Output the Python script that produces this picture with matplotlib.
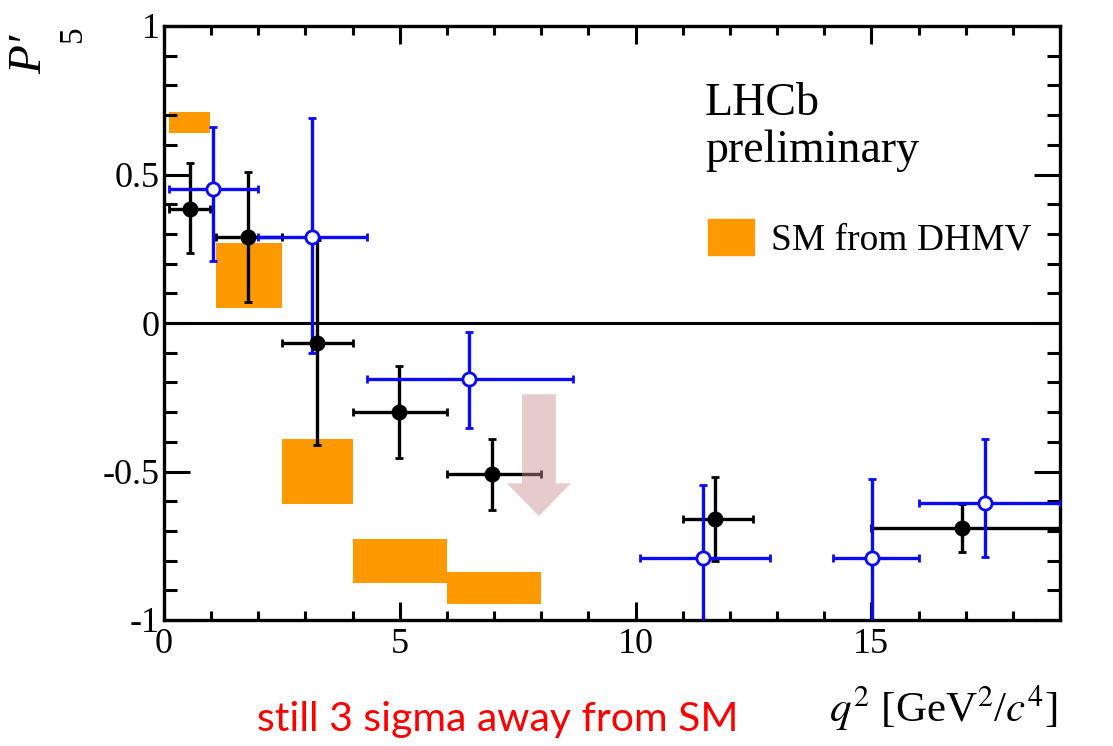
import matplotlib
matplotlib.use("Agg")
import matplotlib.pyplot as plt
from matplotlib.patches import Patch, FancyArrow
from matplotlib.ticker import MultipleLocator
import numpy as np

# ---- data ----
# 2015 preliminary (black, filled)
new_x = [0.55, 1.79, 3.25, 4.98, 6.96, 11.69, 16.92]
new_xlo = [0.10, 1.10, 2.50, 4.00, 6.00, 11.00, 15.00]
new_xhi = [0.98, 2.50, 4.00, 6.00, 8.00, 12.50, 19.00]
new_y = [0.385, 0.29, -0.068, -0.30, -0.507, -0.66, -0.69]
new_yup = [0.54, 0.51, 0.28, -0.145, -0.39, -0.517, -0.61]
new_ydn = [0.236, 0.07, -0.41, -0.456, -0.63, -0.80, -0.77]

# 2013 (blue, open)
old_x = [1.03, 3.13, 6.46, 11.43, 15.02, 17.40]
old_xlo = [0.10, 2.00, 4.30, 10.09, 14.18, 16.00]
old_xhi = [2.00, 4.30, 8.68, 12.86, 16.00, 19.00]
old_y = [0.45, 0.29, -0.19, -0.79, -0.79, -0.605]
old_yup = [0.66, 0.69, -0.03, -0.545, -0.525, -0.39]
old_ydn = [0.21, -0.10, -0.355, -1.10, -1.10, -0.787]

# SM prediction (DHMV) boxes
sm_lo_edge = [0.10, 1.10, 2.50, 4.00, 6.00]
sm_hi_edge = [0.98, 2.50, 4.00, 6.00, 8.00]
sm_lo = [0.64, 0.05, -0.61, -0.875, -0.946]
sm_hi = [0.71, 0.27, -0.39, -0.727, -0.84]

W, H = 1113, 746
fig = plt.figure(figsize=(W / 100, H / 100), dpi=100)
L, R, T, B = 164, 1060, 26, 620
ax = fig.add_axes([L / W, 1 - B / H, (R - L) / W, (B - T) / H])
serif = "Liberation Serif"
orange = "#ff9900"
blue = "#0a0af5"

# SM boxes
ax.bar(sm_lo_edge, np.array(sm_hi) - np.array(sm_lo),
       width=np.array(sm_hi_edge) - np.array(sm_lo_edge),
       bottom=sm_lo, align="edge", color=orange, lw=0, zorder=1)

ax.axhline(0, color="black", lw=2.2, zorder=2)

def eb(x, xlo, xhi, y, yup, ydn, color, face, ms):
    x = np.array(x); y = np.array(y)
    xerr = [x - np.array(xlo), np.array(xhi) - x]
    yerr = [y - np.array(ydn), np.array(yup) - y]
    ax.errorbar(x, y, xerr=xerr, yerr=yerr, fmt="o", color=color,
                mfc=face, mec=color, mew=2.0, ms=ms, elinewidth=2.4,
                capsize=3, capthick=2.4, zorder=3)

eb(new_x, new_xlo, new_xhi, new_y, new_yup, new_ydn, "black", "black", 9.5)
eb(old_x, old_xlo, old_xhi, old_y, old_yup, old_ydn, blue, "white", 9.5)

# arrow annotation
arr = FancyArrow(7.95, -0.24, 0, -0.41, width=0.72, head_width=1.35,
                 head_length=0.11, length_includes_head=True,
                 color=(0.78, 0.55, 0.55), alpha=0.45, lw=0, zorder=4)
ax.add_patch(arr)

ax.set_xlim(0, 19)
ax.set_ylim(-1, 1)
ax.xaxis.set_minor_locator(MultipleLocator(1))
ax.yaxis.set_minor_locator(MultipleLocator(0.1))
ax.set_xticks([0, 5, 10, 15])
ax.set_xticklabels(["0", "5", "10", "15"])
ax.set_yticks([-1, -0.5, 0, 0.5, 1])
ax.set_yticklabels(["-1", "-0.5", "0", "0.5", "1"])
ax.tick_params(which="both", direction="in", top=True, right=True,
               width=2.2, labelsize=26)
ax.tick_params(axis="x", which="major", length=13, pad=6)
ax.tick_params(axis="x", which="minor", length=6.5)
ax.tick_params(axis="y", which="major", length=19, pad=3)
ax.tick_params(axis="y", which="minor", length=9.5)
for lab in ax.get_xticklabels() + ax.get_yticklabels():
    lab.set_fontfamily(serif)
for s in ax.spines.values():
    s.set_linewidth(2.4)

# axis titles
fig.text(1058 / W, 1 - 722 / H, r"$q^2$ [GeV$^2$/$c^4$]", ha="right",
         va="baseline", fontsize=31, family=serif, math_fontfamily="stix")
fig.text(30 / W, 1 - 74 / H, "P\u2032", rotation=90, ha="center",
         va="bottom", fontsize=34, family=[serif, "DejaVu Serif"],
         style="italic")
fig.text(73 / W, 1 - 42 / H, "5", rotation=90, ha="center", va="bottom",
         fontsize=24, family=serif)
fig.text(498 / W, 1 - 731 / H, "still 3 sigma away from SM", color="red",
         ha="center", va="baseline", fontsize=29.5, family="Lato")

ax.text((705 - L) / (R - L), (B - 115) / (B - T), "LHCb", transform=ax.transAxes,
        ha="left", va="baseline", fontsize=33, family=serif)
ax.text((705 - L) / (R - L), (B - 162) / (B - T), "preliminary",
        transform=ax.transAxes, ha="left", va="baseline", fontsize=33,
        family=serif)
ax.legend(handles=[Patch(color=orange, label="SM from DHMV")],
          loc="center left", bbox_to_anchor=((700 - L) / (R - L), (B - 238) / (B - T)),
          frameon=False, prop={"family": serif, "size": 27}, handlelength=1.25,
          handleheight=1.1, handletextpad=0.45, borderpad=0.2, borderaxespad=0)

fig.savefig("out.png", dpi=100, facecolor="white")
